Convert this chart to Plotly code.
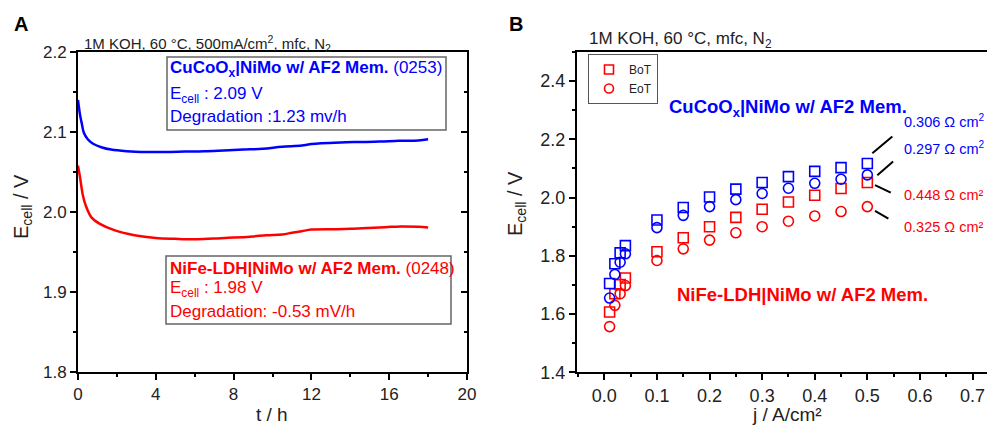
import plotly.graph_objects as go

W, H = 987, 425
FONT = "Liberation Sans, Arial, sans-serif"
BLUE = "#0000FF"
RED = "#FF0000"

# ---- Panel A: constant-current stability at 500 mA/cm2 ----
t_cucoo = [0, 0.1, 0.2, 0.3, 0.5, 0.8, 1.2, 1.7, 2.5, 3.5, 4.5, 5.5, 6.5,
           7.5, 8.5, 9.5, 10.5, 11.5, 12.0, 12.5, 13.5, 14.5, 15.5, 16.5, 17.5, 18.0]
e_cucoo = [2.140, 2.122, 2.110, 2.099, 2.091, 2.085, 2.081, 2.078, 2.076, 2.075,
           2.075, 2.0755, 2.076, 2.077, 2.078, 2.079, 2.0815, 2.083, 2.085, 2.086,
           2.087, 2.0875, 2.088, 2.089, 2.0895, 2.091]

t_nife = [0, 0.1, 0.25, 0.4, 0.7, 1.1, 1.9, 2.9, 4.0, 5.0, 6.0, 7.0, 8.0, 9.0,
          9.7, 10.5, 11.0, 11.5, 12.0, 13.2, 14.0, 14.9, 15.8, 16.6, 17.5, 18.0]
e_nife = [2.058, 2.044, 2.021, 2.008, 1.993, 1.9855, 1.977, 1.971, 1.9675, 1.9665,
          1.966, 1.967, 1.968, 1.9695, 1.971, 1.972, 1.974, 1.976, 1.978, 1.9785,
          1.979, 1.980, 1.981, 1.982, 1.9815, 1.9805]

# ---- Panel B: polarization curves, begin (BoT) and end (EoT) of test ----
j_pol = [0.01, 0.02, 0.03, 0.04, 0.1, 0.15, 0.2, 0.25, 0.3, 0.35, 0.4, 0.45, 0.5]
cucoo_bot = [1.705, 1.773, 1.810, 1.835, 1.923, 1.966, 2.002, 2.029, 2.052, 2.072,
             2.090, 2.103, 2.117]
cucoo_eot = [1.655, 1.736, 1.778, 1.807, 1.897, 1.939, 1.969, 1.993, 2.014, 2.032,
             2.049, 2.063, 2.078]
nife_bot = [1.607, 1.670, 1.701, 1.724, 1.814, 1.862, 1.900, 1.932, 1.960, 1.985,
            2.008, 2.031, 2.052]
nife_eot = [1.557, 1.630, 1.670, 1.698, 1.784, 1.824, 1.854, 1.879, 1.900, 1.919,
            1.937, 1.952, 1.969]

hfr_labels = ["0.306 Ω cm<sup>2</sup>", "0.297 Ω cm<sup>2</sup>",
              "0.448 Ω cm²", "0.325 Ω cm²"]


def px(x):
    return x / W


def py(y):
    return 1 - y / H


fig = go.Figure()

fig.add_trace(go.Scatter(x=t_cucoo, y=e_cucoo, mode="lines", xaxis="x", yaxis="y",
                         line=dict(color=BLUE, width=2.5, shape="spline"),
                         showlegend=False, hoverinfo="skip"))
fig.add_trace(go.Scatter(x=t_nife, y=e_nife, mode="lines", xaxis="x", yaxis="y",
                         line=dict(color=RED, width=2.5, shape="spline"),
                         showlegend=False, hoverinfo="skip"))
# carrier for the inward right-hand ticks of panel A
fig.add_trace(go.Scatter(x=[None], y=[None], xaxis="x", yaxis="y3",
                         showlegend=False, hoverinfo="skip"))

for yv, sym, col in [(nife_eot, "circle-open", RED), (nife_bot, "square-open", RED),
                     (cucoo_eot, "circle-open", BLUE), (cucoo_bot, "square-open", BLUE)]:
    fig.add_trace(go.Scatter(x=j_pol, y=yv, mode="markers", xaxis="x2", yaxis="y2",
                             marker=dict(symbol=sym, color=col, size=10,
                                         line=dict(width=1.6, color=col)),
                             showlegend=False, hoverinfo="skip"))
for name, sym in [("BoT", "square-open"), ("EoT", "circle-open")]:
    fig.add_trace(go.Scatter(x=[None], y=[None], mode="markers", name=name,
                             xaxis="x2", yaxis="y2",
                             marker=dict(symbol=sym, color=RED, size=9,
                                         line=dict(width=1.6, color=RED))))

tickfont_a = dict(family=FONT, size=17, color="#222")
tickfont_b = dict(family=FONT, size=18, color="#222")
axis_common = dict(showline=True, linewidth=2, linecolor="black", showgrid=False,
                   zeroline=False, ticks="outside", tickwidth=2, ticklen=6,
                   tickcolor="black", automargin=False)

fig.update_layout(
    width=W, height=H, margin=dict(l=0, r=0, t=0, b=0),
    paper_bgcolor="white", plot_bgcolor="white",
    xaxis=dict(domain=[px(78), px(467)], anchor="y", range=[0, 20], dtick=4,
               mirror=True, tickfont=tickfont_a,
               minor=dict(dtick=2, ticks="outside", ticklen=3, tickwidth=2,
                          tickcolor="black"), **axis_common),
    yaxis=dict(domain=[py(372), py(52)], anchor="x", range=[1.8, 2.2], dtick=0.1,
               tickformat=".1f", mirror=True, tickfont=tickfont_a,
               minor=dict(dtick=0.05, ticks="outside", ticklen=3, tickwidth=2,
                          tickcolor="black"), **axis_common),
    yaxis3=dict(overlaying="y", anchor="x", side="right", range=[1.8, 2.2],
                dtick=0.1, showticklabels=False, showline=False, showgrid=False,
                zeroline=False, ticks="inside", ticklen=6, tickwidth=2,
                tickcolor="black",
                minor=dict(dtick=0.05, ticks="inside", ticklen=3, tickwidth=2,
                           tickcolor="black")),
    xaxis2=dict(domain=[px(577), 1.0], anchor="y2", range=[-0.052, 0.7275],
                dtick=0.1, tick0=0, tickformat=".1f", mirror=True, tickfont=tickfont_b,
                minor=dict(dtick=0.05, ticks="outside", ticklen=3, tickwidth=2,
                           tickcolor="black"), **axis_common),
    yaxis2=dict(domain=[py(372.3), py(52)], anchor="x2", range=[1.4, 2.5],
                dtick=0.2, tick0=1.4, tickformat=".1f", tickfont=tickfont_b,
                minor=dict(dtick=0.1, ticks="outside", ticklen=3, tickwidth=2,
                           tickcolor="black"), **axis_common),
    legend=dict(x=px(588), y=py(54), xanchor="left", yanchor="top",
                bordercolor="#555", borderwidth=1, bgcolor="white",
                font=dict(family=FONT, size=12, color="#222"),
                tracegroupgap=0, itemwidth=30),
)

annotations = []


def ann(text, x, y, size, color="#222", xanchor="left", angle=0, bold=False):
    if bold:
        text = "<b>" + text + "</b>"
    annotations.append(dict(text=text, x=px(x), y=py(y), xref="paper", yref="paper",
                            xanchor=xanchor, yanchor="middle", showarrow=False,
                            textangle=angle,
                            font=dict(family=FONT, size=size, color=color)))


# panel letters and condition headers
ann("<b>A</b>", 20.5, 24.5, 20, "black", xanchor="center")
ann("<b>B</b>", 515.5, 24.5, 20, "black", xanchor="center")
ann("1M KOH, 60 °C, 500mA/cm<sup>2</sup>, mfc, N<sub>2</sub>", 82, 44, 15)
ann("1M KOH, 60 °C, mfc, N<sub>2</sub>", 587, 40, 17)

# axis titles
ann("E<sub>cell</sub> / V", 22, 207, 20, angle=-90, xanchor="center")
ann("t / h", 272, 414, 19, xanchor="center")
ann("E<sub>cell</sub> / V", 516, 204, 20, angle=-90, xanchor="center")
ann("j / A/cm²", 787, 414, 19, xanchor="center")

# panel A info boxes
ann("<b>CuCoO<sub>x</sub>|NiMo w/ AF2 Mem.</b> (0253)", 168, 69, 17, BLUE)
ann("E<sub>cell</sub> : 2.09 V", 168, 95, 17, BLUE)
ann("Degradation :1.23 mv/h", 168, 117, 17, BLUE)
ann("<b>NiFe-LDH|NiMo w/ AF2 Mem.</b> (0248)", 168, 268, 17, RED)
ann("E<sub>cell</sub> : 1.98 V", 168, 289, 17, RED)
ann("Degradation: -0.53 mV/h", 168, 311, 17, RED)

# panel B labels
ann("CuCoO<sub>x</sub>|NiMo w/ AF2 Mem.", 667, 108, 18.5, BLUE, bold=True)
ann("NiFe-LDH|NiMo w/ AF2 Mem.", 675, 294, 18.5, RED, bold=True)
for lab, yy, col in zip(hfr_labels, [121, 148, 195, 227], [BLUE, BLUE, RED, RED]):
    ann(lab, 902, yy, 14.5, col)

fig.update_layout(annotations=annotations)

shapes = [
    dict(type="rect", xref="paper", yref="paper", x0=px(167), x1=px(446),
         y0=py(130), y1=py(57), line=dict(color="#666", width=1.5)),
    dict(type="rect", xref="paper", yref="paper", x0=px(166), x1=px(451),
         y0=py(324), y1=py(256), line=dict(color="#666", width=1.5)),
]
# leader lines from the 0.5 A/cm2 points to their resistance labels
ends = [cucoo_bot[-1], cucoo_eot[-1], nife_bot[-1], nife_eot[-1]]
offsets = [((0.0095, 0.035), (0.0475, 0.093)),
           ((0.019, -0.001), (0.049, 0.046)),
           ((0.0146, -0.009), (0.0445, -0.035)),
           ((0.0146, -0.015), (0.040, -0.041))]
for yend, ((dx0, dy0), (dx1, dy1)) in zip(ends, offsets):
    shapes.append(dict(type="line", xref="x2", yref="y2",
                       x0=j_pol[-1] + dx0, y0=yend + dy0,
                       x1=j_pol[-1] + dx1, y1=yend + dy1,
                       line=dict(color="black", width=2)))
fig.update_layout(shapes=shapes)

fig.write_html("out.html")
